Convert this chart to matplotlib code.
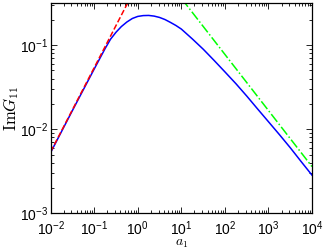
import matplotlib
matplotlib.use("Agg")
import matplotlib.pyplot as plt

plt.rcParams['font.family'] = ['Liberation Sans', 'DejaVu Sans']
plt.rcParams['mathtext.fontset'] = 'custom'
plt.rcParams['mathtext.rm'] = 'Liberation Sans'
plt.rcParams['mathtext.it'] = 'Liberation Sans:italic'

# values (log-log)
blue_x = [0.01, 0.0316, 0.1, 0.133, 0.178, 0.237, 0.316, 0.42, 0.562, 0.75,
          1.0, 1.33, 1.78, 2.37, 3.16, 4.22, 5.62, 7.5, 10, 18, 32, 56, 100,
          180, 320, 560, 1000, 1800, 3200, 5600, 10000]
blue_y = [0.0053, 0.0167, 0.052, 0.0686, 0.091, 0.1175, 0.142, 0.166, 0.188,
          0.207, 0.219, 0.224, 0.225, 0.221, 0.213, 0.201, 0.186, 0.171, 0.155,
          0.118, 0.0891, 0.0661, 0.0481, 0.0347, 0.0247, 0.0175, 0.0123,
          0.0086, 0.0060, 0.00415, 0.00285]
# small a1 asymptote
red_x = [0.01, 1]
red_y = [0.0054, 0.54]
# large a1 asymptote
green_x = [10, 10000]
green_y = [0.36, 0.0036]

fig = plt.figure(figsize=(3.27, 2.49), dpi=100)
ax = fig.add_axes([0.155, 0.143, 0.799, 0.843])

ax.plot(blue_x, blue_y, color=(0, 0, 1), lw=1.1)
ax.plot(red_x, red_y, '--', color=(1, 0, 0), lw=1.1)
ax.plot(green_x, green_y, '-.', color=(0, 1, 0), lw=1.1)

ax.set_xscale('log')
ax.set_yscale('log')
ax.set_xlim(1e-2, 1e4)
ax.set_ylim(1e-3, 0.312)
ax.set_xticks([1e-2, 1e-1, 1e0, 1e1, 1e2, 1e3, 1e4])
ax.set_yticks([1e-3, 1e-2, 1e-1])

ax.tick_params(which='both', direction='in', top=True, right=True,
               labelsize=10, width=0.6)
ax.tick_params(which='major', length=4)
ax.tick_params(which='minor', length=2)
ax.tick_params(axis='x', pad=4)
ax.tick_params(axis='y', pad=2)
for s in ax.spines.values():
    s.set_linewidth(0.9)

ax.set_xlabel(r'$a_1$', fontsize=10, math_fontfamily='cm')
ax.set_ylabel(r'$\mathrm{Im}G_{11}$', fontsize=12, math_fontfamily='cm')
ax.xaxis.set_label_coords(0.5, -0.108)
ax.yaxis.set_label_coords(-0.113, 0.5)

fig.savefig("out.png", dpi=100)
